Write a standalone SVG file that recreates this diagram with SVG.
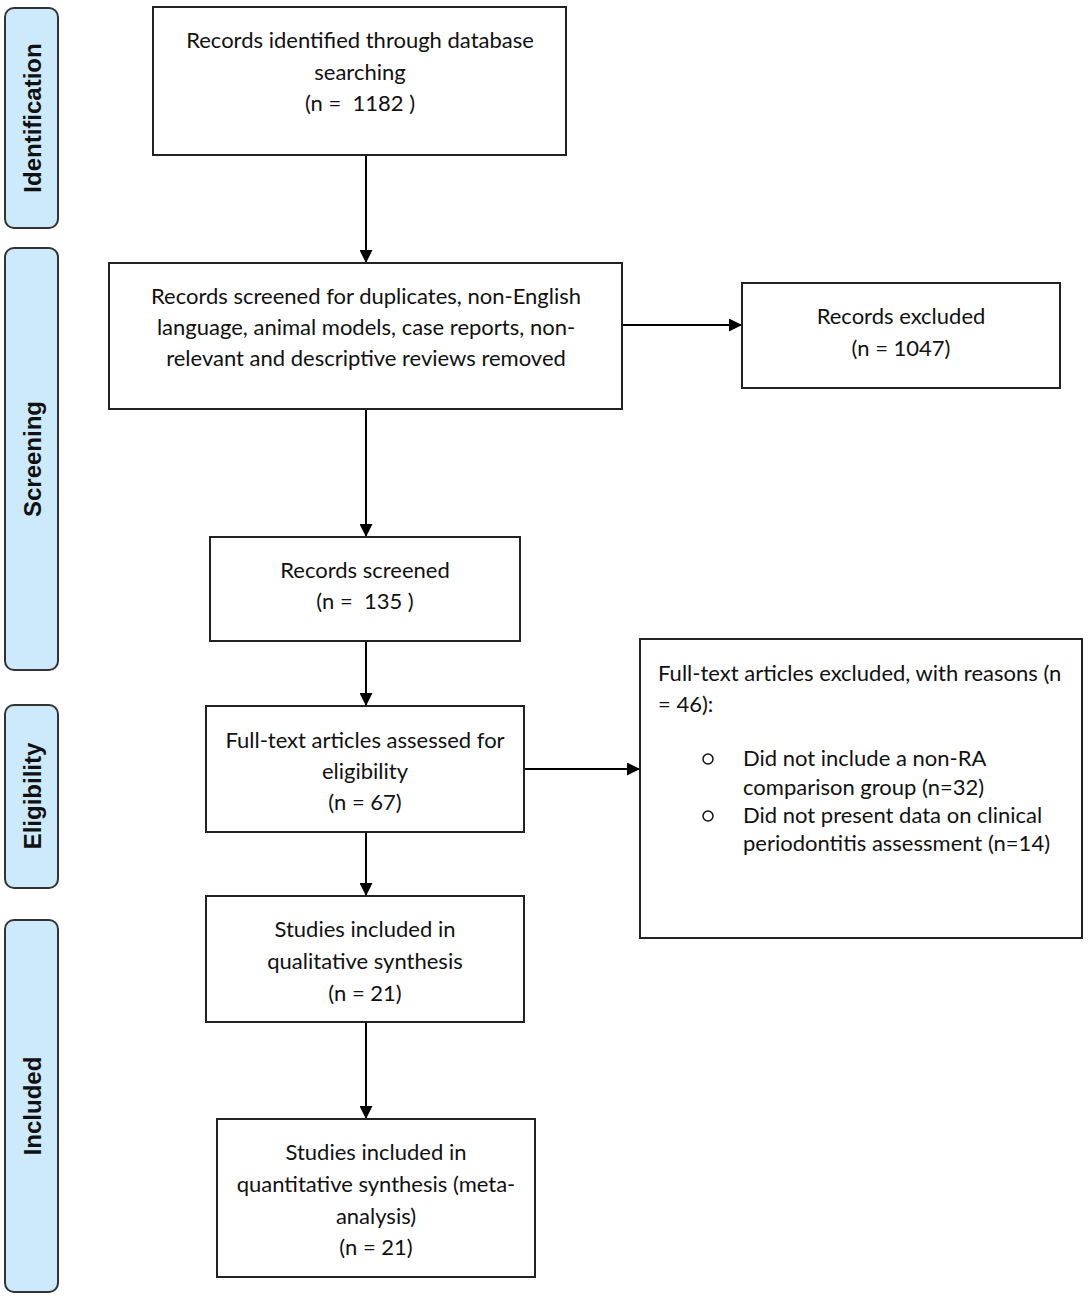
<svg xmlns="http://www.w3.org/2000/svg" width="1089" height="1299" viewBox="0 0 1089 1299">
<defs>
<marker id="ah" viewBox="0 0 13 13" refX="12" refY="6.5" markerWidth="13" markerHeight="13" markerUnits="userSpaceOnUse" orient="auto"><path d="M0,0 L13,6.5 L0,13 z" fill="#000"/></marker>
<style>
.box{fill:#fff;stroke:#222;stroke-width:2}
.side{fill:#cdeafd;stroke:#333;stroke-width:2}
.t{font-family:Lato,"Liberation Sans",sans-serif;font-size:22px;fill:#111;text-anchor:middle}
.tl{font-family:Lato,"Liberation Sans",sans-serif;font-size:22px;fill:#111}
.st{font-family:"Liberation Sans",Arial,sans-serif;font-size:24px;font-weight:bold;fill:#111;text-anchor:middle}
.ln{stroke:#000;stroke-width:2;fill:none;marker-end:url(#ah)}
</style>
</defs>
<rect width="1089" height="1299" fill="#fff"/>
<g id="side-identification"><rect class="side" x="5" y="8" width="53" height="220" rx="9"/><text class="st" transform="translate(41,118) rotate(-90)">Identification</text></g>
<g id="side-screening"><rect class="side" x="5" y="248" width="53" height="422" rx="9"/><text class="st" transform="translate(41,459) rotate(-90)">Screening</text></g>
<g id="side-eligibility"><rect class="side" x="5" y="705" width="53" height="183" rx="9"/><text class="st" transform="translate(41,796) rotate(-90)">Eligibility</text></g>
<g id="side-included"><rect class="side" x="5" y="920" width="53" height="372" rx="9"/><text class="st" transform="translate(41,1106) rotate(-90)">Included</text></g>
<g id="connectors">
<line class="ln" x1="366" y1="155" x2="366" y2="262"/>
<line class="ln" x1="366" y1="409" x2="366" y2="536"/>
<line class="ln" x1="366" y1="641" x2="366" y2="705"/>
<line class="ln" x1="366" y1="832" x2="366" y2="895"/>
<line class="ln" x1="366" y1="1022" x2="366" y2="1118"/>
<line class="ln" x1="622" y1="325" x2="741" y2="325"/>
<line class="ln" x1="524" y1="769" x2="639" y2="769"/>
</g>
<g id="n1"><rect class="box" x="153" y="7" width="413" height="148"/>
<text class="t" x="360" y="48">Records identified through database</text>
<text class="t" x="360" y="80">searching</text>
<text class="t" x="360" y="111" xml:space="preserve">(n =  1182 )</text></g>
<g id="n2"><rect class="box" x="109" y="263" width="513" height="146"/>
<text class="t" x="366" y="304">Records screened for duplicates, non-English</text>
<text class="t" x="366" y="335">language, animal models, case reports, non-</text>
<text class="t" x="366" y="366">relevant and descriptive reviews removed</text></g>
<g id="n-excl1"><rect class="box" x="742" y="283" width="318" height="105"/>
<text class="t" x="901" y="324">Records excluded</text>
<text class="t" x="901" y="356">(n = 1047)</text></g>
<g id="n3"><rect class="box" x="210" y="537" width="310" height="104"/>
<text class="t" x="365" y="578">Records screened</text>
<text class="t" x="365" y="609" xml:space="preserve">(n =  135 )</text></g>
<g id="n4"><rect class="box" x="206" y="706" width="318" height="126"/>
<text class="t" x="365" y="748">Full-text articles assessed for</text>
<text class="t" x="365" y="779">eligibility</text>
<text class="t" x="365" y="810">(n = 67)</text></g>
<g id="n-excl2"><rect class="box" x="640" y="639" width="442" height="299"/>
<text class="tl" x="658" y="681">Full-text articles excluded, with reasons (n</text>
<text class="tl" x="658" y="712">= 46):</text>
<circle cx="708" cy="759" r="5" fill="none" stroke="#111" stroke-width="1.5"/>
<text class="tl" x="743" y="766">Did not include a non-RA</text>
<text class="tl" x="743" y="795">comparison group (n=32)</text>
<circle cx="708" cy="816" r="5" fill="none" stroke="#111" stroke-width="1.5"/>
<text class="tl" x="743" y="823">Did not present data on clinical</text>
<text class="tl" x="743" y="851">periodontitis assessment (n=14)</text></g>
<g id="n5"><rect class="box" x="206" y="896" width="318" height="126"/>
<text class="t" x="365" y="937">Studies included in</text>
<text class="t" x="365" y="969">qualitative synthesis</text>
<text class="t" x="365" y="1001">(n = 21)</text></g>
<g id="n6"><rect class="box" x="217" y="1119" width="318" height="158"/>
<text class="t" x="376" y="1160">Studies included in</text>
<text class="t" x="376" y="1192">quantitative synthesis (meta-</text>
<text class="t" x="376" y="1224">analysis)</text>
<text class="t" x="376" y="1255">(n = 21)</text></g>
</svg>
